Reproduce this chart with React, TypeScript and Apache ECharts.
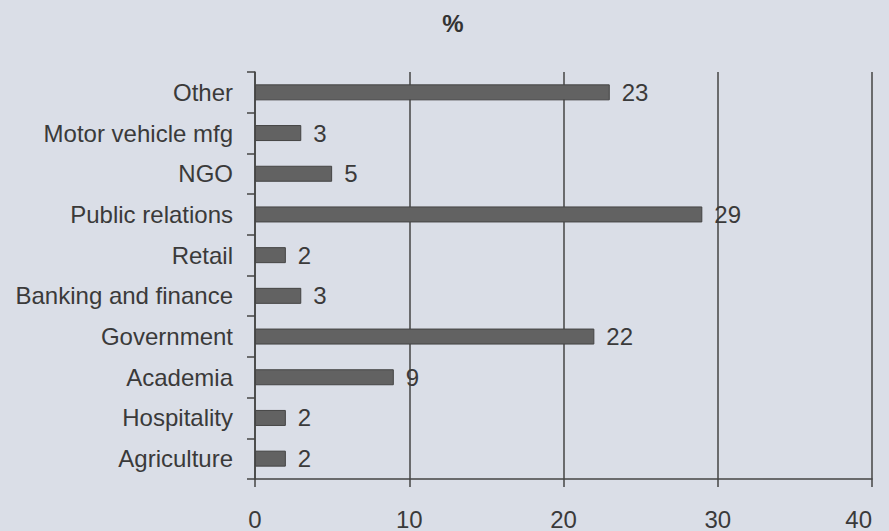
import React, { useEffect, useRef } from "react";
import * as echarts from "echarts";

const categories = [
  "Agriculture",
  "Hospitality",
  "Academia",
  "Government",
  "Banking and finance",
  "Retail",
  "Public relations",
  "NGO",
  "Motor vehicle mfg",
  "Other",
];
const values = [2, 2, 9, 22, 3, 2, 29, 5, 3, 23];
const xTicks = [0, 10, 20, 30, 40];

export default function App() {
  const ref = useRef<HTMLDivElement>(null);
  useEffect(() => {
    if (!ref.current) return;
    const chart = echarts.init(ref.current, undefined, { renderer: "svg" });
    chart.setOption({
      animation: false,
      backgroundColor: "#dadee7",
      textStyle: { fontFamily: "Liberation Sans, Arial, sans-serif" },
      title: {
        text: "%",
        left: 448,
        top: 6,
        textAlign: "center",
        textStyle: { fontSize: 24, fontWeight: "bold", color: "#333" },
      },
      grid: { left: 255, right: 17, top: 72, bottom: 51, containLabel: false },
      xAxis: {
        type: "value",
        min: xTicks[0],
        max: xTicks[xTicks.length - 1],
        interval: 10,
        axisLine: { show: true, lineStyle: { color: "#444", width: 1.5 } },
        axisTick: { show: true, length: 8, lineStyle: { color: "#444", width: 1.5 } },
        axisLabel: { fontSize: 24, color: "#3a3a3a", margin: 28, alignMaxLabel: "right" },
        splitLine: { show: true, lineStyle: { color: "#444", width: 1.5 } },
      },
      yAxis: {
        type: "category",
        data: categories,
        axisLine: { show: true, lineStyle: { color: "#444", width: 1.5 } },
        axisTick: { show: true, length: 8, inside: false, lineStyle: { color: "#444", width: 1.5 } },
        axisLabel: { fontSize: 24, color: "#3a3a3a", margin: 22 },
        splitLine: { show: false },
      },
      series: [
        {
          type: "bar",
          data: values,
          barWidth: 16,
          itemStyle: { color: "#626262", borderColor: "#444", borderWidth: 1 },
          label: {
            show: true,
            position: "right",
            distance: 12,
            fontSize: 24,
            color: "#3a3a3a",
          },
        },
      ],
    });
    return () => chart.dispose();
  }, []);
  return <div ref={ref} style={{ width: 889, height: 531, position: "absolute", left: 0, top: 0 }} />;
}
